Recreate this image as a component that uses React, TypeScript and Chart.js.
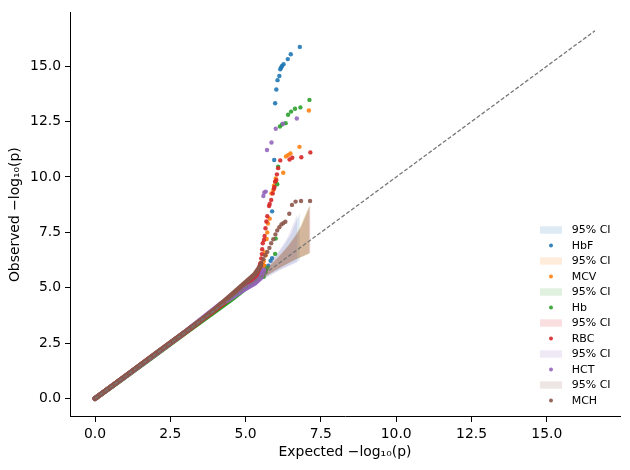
import React, { useEffect, useRef } from "react";
import { Chart, registerables } from "chart.js";

Chart.register(...registerables);

// ---------- series meta ----------
const seriesNames = ["HbF", "MCV", "Hb", "RBC", "HCT", "MCH"];
const seriesColors = ["#1f77b4", "#ff7f0e", "#2ca02c", "#d62728", "#9467bd", "#8c564b"];
const ciLabel = "95% CI";

// ---------- axes ----------
const xTicks = [0, 2.5, 5, 7.5, 10, 12.5, 15];
const yTicks = [0, 2.5, 5, 7.5, 10, 12.5, 15];
const axisMin = -0.83;
const axisMax = 17.43;
const xTitle = "Expected \u2212log\u2081\u2080(p)";
const yTitle = "Observed \u2212log\u2081\u2080(p)";

// ---------- reference diagonal ----------
const diagX = [0, 16.6];
const diagY = [0, 16.6];

// ---------- dense bulk of each series (expected, observed) ----------
const hbfBodyX = [0, 1, 2, 3, 4, 4.5, 5.0, 5.3, 5.5, 5.65];
const hbfBodyY = [0, 1, 2, 3, 4.0, 4.52, 5.05, 5.35, 5.55, 5.8];
const mcvBodyX = [0, 1, 2, 3, 4, 4.5, 5.0, 5.3, 5.5, 5.6];
const mcvBodyY = [0, 1, 2, 3, 4.02, 4.55, 5.08, 5.4, 5.7, 6.0];
const hbBodyX = [0, 1, 2, 3, 4, 4.5, 5.0, 5.3, 5.5, 5.65];
const hbBodyY = [0, 0.98, 1.97, 2.97, 3.95, 4.45, 4.98, 5.3, 5.5, 5.8];
const rbcBodyX = [0, 1, 2, 3, 4, 4.5, 5.0, 5.3, 5.45, 5.5];
const rbcBodyY = [0, 1, 2, 3, 4.02, 4.55, 5.1, 5.45, 5.8, 6.1];
const hctBodyX = [0, 1, 2, 3, 3.8, 4.2, 4.6, 5.0, 5.3, 5.5, 5.6];
const hctBodyY = [0, 1, 2, 3.02, 3.88, 4.3, 4.62, 4.97, 5.2, 5.45, 5.8];
const mchBodyX = [0, 1, 2, 3, 3.5, 4.0, 4.5, 5.0, 5.3, 5.5];
const mchBodyY = [0, 1.01, 2.02, 3.02, 3.52, 4.06, 4.65, 5.25, 5.6, 6.0];

// ---------- sparse upper tail of each series ----------
const hbfTailX = [5.75, 5.83, 5.88, 5.88, 5.95, 5.98, 6.02, 6.06, 6.12, 6.15, 6.18, 6.21, 6.26, 6.4, 6.5, 6.8];
const hbfTailY = [6.0, 6.22, 6.34, 8.45, 10.77, 13.33, 13.95, 14.37, 14.56, 14.86, 14.94, 15.01, 15.09, 15.32, 15.54, 15.87];
const mcvTailX = [5.6, 5.64, 5.67, 5.7, 5.72, 5.74, 5.8, 5.86, 5.92, 5.94, 5.99, 6.0, 6.25, 6.34, 6.42, 6.49, 6.79, 7.1];
const mcvTailY = [6.2, 6.6, 6.47, 7.2, 7.5, 7.9, 8.12, 9.26, 9.41, 9.61, 9.79, 9.94, 10.19, 10.93, 11.0, 11.06, 11.36, 13.0];
const hbTailX = [5.6, 5.66, 5.72, 5.98, 6.0, 6.05, 6.08, 6.14, 6.21, 6.33, 6.41, 6.51, 6.64, 6.82, 7.12];
const hbTailY = [5.5, 5.7, 5.91, 6.53, 7.22, 9.67, 10.47, 12.28, 12.37, 12.43, 12.81, 12.95, 13.08, 13.14, 13.48];
const rbcTailX = [5.52, 5.54, 5.55, 5.57, 5.61, 5.63, 5.66, 5.69, 5.72, 5.78, 5.8, 5.85, 5.9, 5.94, 5.96, 5.98, 6.02, 6.04, 6.08, 6.15, 6.46, 6.55, 6.85, 7.15];
const rbcTailY = [6.32, 6.52, 6.74, 7.01, 7.16, 7.34, 7.69, 7.99, 8.23, 8.69, 8.78, 8.96, 9.26, 9.47, 9.55, 9.79, 9.86, 10.12, 10.4, 10.75, 10.79, 10.87, 10.89, 11.11];
const hctTailX = [5.59, 5.62, 5.67, 5.71, 5.86, 6.0, 6.24, 6.7];
const hctTailY = [9.14, 9.3, 9.34, 11.22, 11.56, 12.18, 12.4, 12.64];
const mchTailX = [5.52, 5.59, 5.65, 5.72, 5.79, 5.85, 5.92, 5.99, 6.05, 6.12, 6.19, 6.25, 6.32, 6.45, 6.54, 6.66, 6.84, 7.14];
const mchTailY = [6.11, 6.29, 6.47, 6.62, 6.8, 7.01, 7.19, 7.41, 7.59, 7.73, 7.86, 7.92, 7.98, 8.34, 8.74, 8.89, 8.92, 8.92];

// ---------- 95% CI bands (expected, upper, lower) ----------
const hbfCiX = [3.8, 4.32, 4.8, 5.1, 5.5, 5.8, 6.1, 6.32, 6.5, 6.8];
const hbfCiUp = [3.83, 4.37, 4.89, 5.23, 5.71, 6.12, 6.59, 7.01, 7.42, 8.4];
const hbfCiLo = [3.77, 4.27, 4.72, 4.98, 5.33, 5.57, 5.79, 5.94, 6.05, 6.23];
const mcvCiX = [4.1, 4.62, 5.1, 5.4, 5.8, 6.1, 6.4, 6.62, 6.8, 7.1];
const mcvCiUp = [4.13, 4.67, 5.19, 5.53, 6.01, 6.42, 6.89, 7.31, 7.72, 8.7];
const mcvCiLo = [4.07, 4.57, 5.02, 5.28, 5.63, 5.87, 6.09, 6.24, 6.35, 6.53];
const hbCiX = [4.12, 4.64, 5.12, 5.42, 5.82, 6.12, 6.42, 6.64, 6.82, 7.12];
const hbCiUp = [4.15, 4.69, 5.21, 5.55, 6.03, 6.44, 6.91, 7.33, 7.74, 8.72];
const hbCiLo = [4.09, 4.59, 5.04, 5.3, 5.65, 5.89, 6.11, 6.26, 6.37, 6.55];
const rbcCiX = [4.15, 4.67, 5.15, 5.45, 5.85, 6.15, 6.45, 6.67, 6.85, 7.15];
const rbcCiUp = [4.18, 4.72, 5.24, 5.58, 6.06, 6.47, 6.94, 7.36, 7.77, 8.75];
const rbcCiLo = [4.12, 4.62, 5.07, 5.33, 5.68, 5.92, 6.14, 6.29, 6.4, 6.58];
const hctCiX = [3.71, 4.23, 4.71, 5.01, 5.41, 5.71, 6.01, 6.23, 6.41, 6.71];
const hctCiUp = [3.74, 4.28, 4.8, 5.14, 5.62, 6.03, 6.5, 6.92, 7.33, 8.31];
const hctCiLo = [3.68, 4.18, 4.63, 4.89, 5.24, 5.48, 5.7, 5.85, 5.96, 6.14];
const mchCiX = [4.15, 4.67, 5.15, 5.45, 5.85, 6.15, 6.45, 6.67, 6.85, 7.15];
const mchCiUp = [4.18, 4.72, 5.24, 5.58, 6.06, 6.47, 6.94, 7.36, 7.77, 8.75];
const mchCiLo = [4.12, 4.62, 5.07, 5.33, 5.68, 5.92, 6.14, 6.29, 6.4, 6.58];

const bodies = [
  [hbfBodyX, hbfBodyY], [mcvBodyX, mcvBodyY], [hbBodyX, hbBodyY],
  [rbcBodyX, rbcBodyY], [hctBodyX, hctBodyY], [mchBodyX, mchBodyY],
];
const tails = [
  [hbfTailX, hbfTailY], [mcvTailX, mcvTailY], [hbTailX, hbTailY],
  [rbcTailX, rbcTailY], [hctTailX, hctTailY], [mchTailX, mchTailY],
];
const cis = [
  [hbfCiX, hbfCiUp, hbfCiLo], [mcvCiX, mcvCiUp, mcvCiLo], [hbCiX, hbCiUp, hbCiLo],
  [rbcCiX, rbcCiUp, rbcCiLo], [hctCiX, hctCiUp, hctCiLo], [mchCiX, mchCiUp, mchCiLo],
];

const FONT = "'DejaVu Sans', sans-serif";

function pts(xs: number[], ys: number[]) {
  return xs.map((x, i) => ({ x, y: ys[i] }));
}

function rgba(hex: string, a: number) {
  const n = parseInt(hex.slice(1), 16);
  return `rgba(${(n >> 16) & 255},${(n >> 8) & 255},${n & 255},${a})`;
}

function buildDatasets() {
  const ds: any[] = [];
  seriesNames.forEach((name, i) => {
    const c = seriesColors[i];
    const base = (seriesNames.length - 1 - i) * 4 + 1;
    const [cx, cu, cl] = cis[i];
    ds.push({
      label: ciLabel,
      legendRole: "ci",
      data: pts(cx, cu),
      showLine: true,
      borderWidth: 0,
      borderColor: "rgba(0,0,0,0)",
      backgroundColor: rgba(c, 0.15),
      pointRadius: 0,
      fill: "+1",
      order: base + 2,
    });
    ds.push({
      label: "",
      data: pts(cx, cl),
      showLine: true,
      borderWidth: 0,
      borderColor: "rgba(0,0,0,0)",
      pointRadius: 0,
      fill: false,
      order: base + 3,
    });
    const [bx, by] = bodies[i];
    ds.push({
      label: "",
      data: pts(bx, by),
      showLine: true,
      borderColor: c,
      borderWidth: 5,
      borderCapStyle: "round",
      borderJoinStyle: "round",
      pointRadius: 0,
      fill: false,
      order: base + 1,
    });
    const [tx, ty] = tails[i];
    ds.push({
      label: name,
      legendRole: "point",
      data: pts(tx, ty),
      showLine: false,
      pointRadius: 2.2,
      pointBorderWidth: 0,
      pointBackgroundColor: rgba(c, 0.9),
      backgroundColor: rgba(c, 0.9),
      order: base,
    });
  });
  ds.push({
    label: "",
    data: pts(diagX, diagY),
    showLine: true,
    borderColor: "#777777",
    borderWidth: 1.3,
    borderDash: [4, 2],
    pointRadius: 0,
    fill: false,
    order: 0,
  });
  return ds;
}

const legendPlugin = {
  id: "qqLegend",
  afterDraw(chart: any) {
    const { ctx, chartArea } = chart;
    const entries = chart.data.datasets.filter((d: any) => d.legendRole);
    const rowH = 15.5;
    const firstY = chartArea.bottom - 16.5 - (entries.length - 1) * rowH;
    const patchX = chartArea.right - 80;
    const textX = chartArea.right - 48.3;
    ctx.save();
    ctx.font = `11px ${FONT}`;
    ctx.textBaseline = "middle";
    ctx.textAlign = "left";
    entries.forEach((d: any, k: number) => {
      const y = firstY + k * rowH;
      if (d.legendRole === "ci") {
        ctx.fillStyle = d.backgroundColor;
        ctx.fillRect(patchX, y - 3.7, 22, 7.4);
      } else {
        ctx.fillStyle = d.pointBackgroundColor;
        ctx.beginPath();
        ctx.arc(patchX + 11, y, 2, 0, Math.PI * 2);
        ctx.fill();
      }
      ctx.fillStyle = "#000";
      ctx.fillText(d.label, textX, y + 0.5);
    });
    ctx.restore();
  },
};

function axis(ticks: number[], title: string, horizontal: boolean) {
  return {
    type: "linear",
    min: axisMin,
    max: axisMax,
    afterBuildTicks: (s: any) => {
      s.ticks = ticks.map((v) => ({ value: v }));
    },
    afterFit: (s: any) => {
      if (horizontal) s.height = 53;
      else s.width = 70;
    },
    ticks: {
      callback: (v: any) => Number(v).toFixed(1),
      font: { family: FONT, size: 13.9 },
      color: "#000",
      padding: 4,
      maxRotation: 0,
      autoSkip: false,
    },
    grid: {
      display: true,
      drawOnChartArea: false,
      drawTicks: true,
      tickLength: 5,
      color: "#000",
      lineWidth: 1,
    },
    border: { display: true, color: "#000", width: 1 },
    title: {
      display: true,
      text: title,
      font: { family: FONT, size: 13.9 },
      color: "#000",
      padding: horizontal ? { top: 0, bottom: 9.5 } : { top: 7.5, bottom: 0 },
    },
  };
}

export default function App() {
  const ref = useRef<HTMLCanvasElement | null>(null);
  useEffect(() => {
    if (!ref.current) return;
    const chart = new Chart(ref.current, {
      type: "scatter",
      data: { datasets: buildDatasets() },
      options: {
        responsive: false,
        animation: false,
        layout: { padding: { left: 0, top: 10, right: 10, bottom: 0 } },
        plugins: {
          legend: { display: false },
          tooltip: { enabled: false },
          filler: { propagate: false },
        },
        scales: {
          x: axis(xTicks, xTitle, true),
          y: axis(yTicks, yTitle, false),
        },
      } as any,
      plugins: [legendPlugin],
    });
    return () => chart.destroy();
  }, []);
  return (
    <div style={{ position: "absolute", left: 0, top: 0, width: 630, height: 470, background: "#fff" }}>
      <canvas ref={ref} width={630} height={470} style={{ display: "block" }} />
    </div>
  );
}
